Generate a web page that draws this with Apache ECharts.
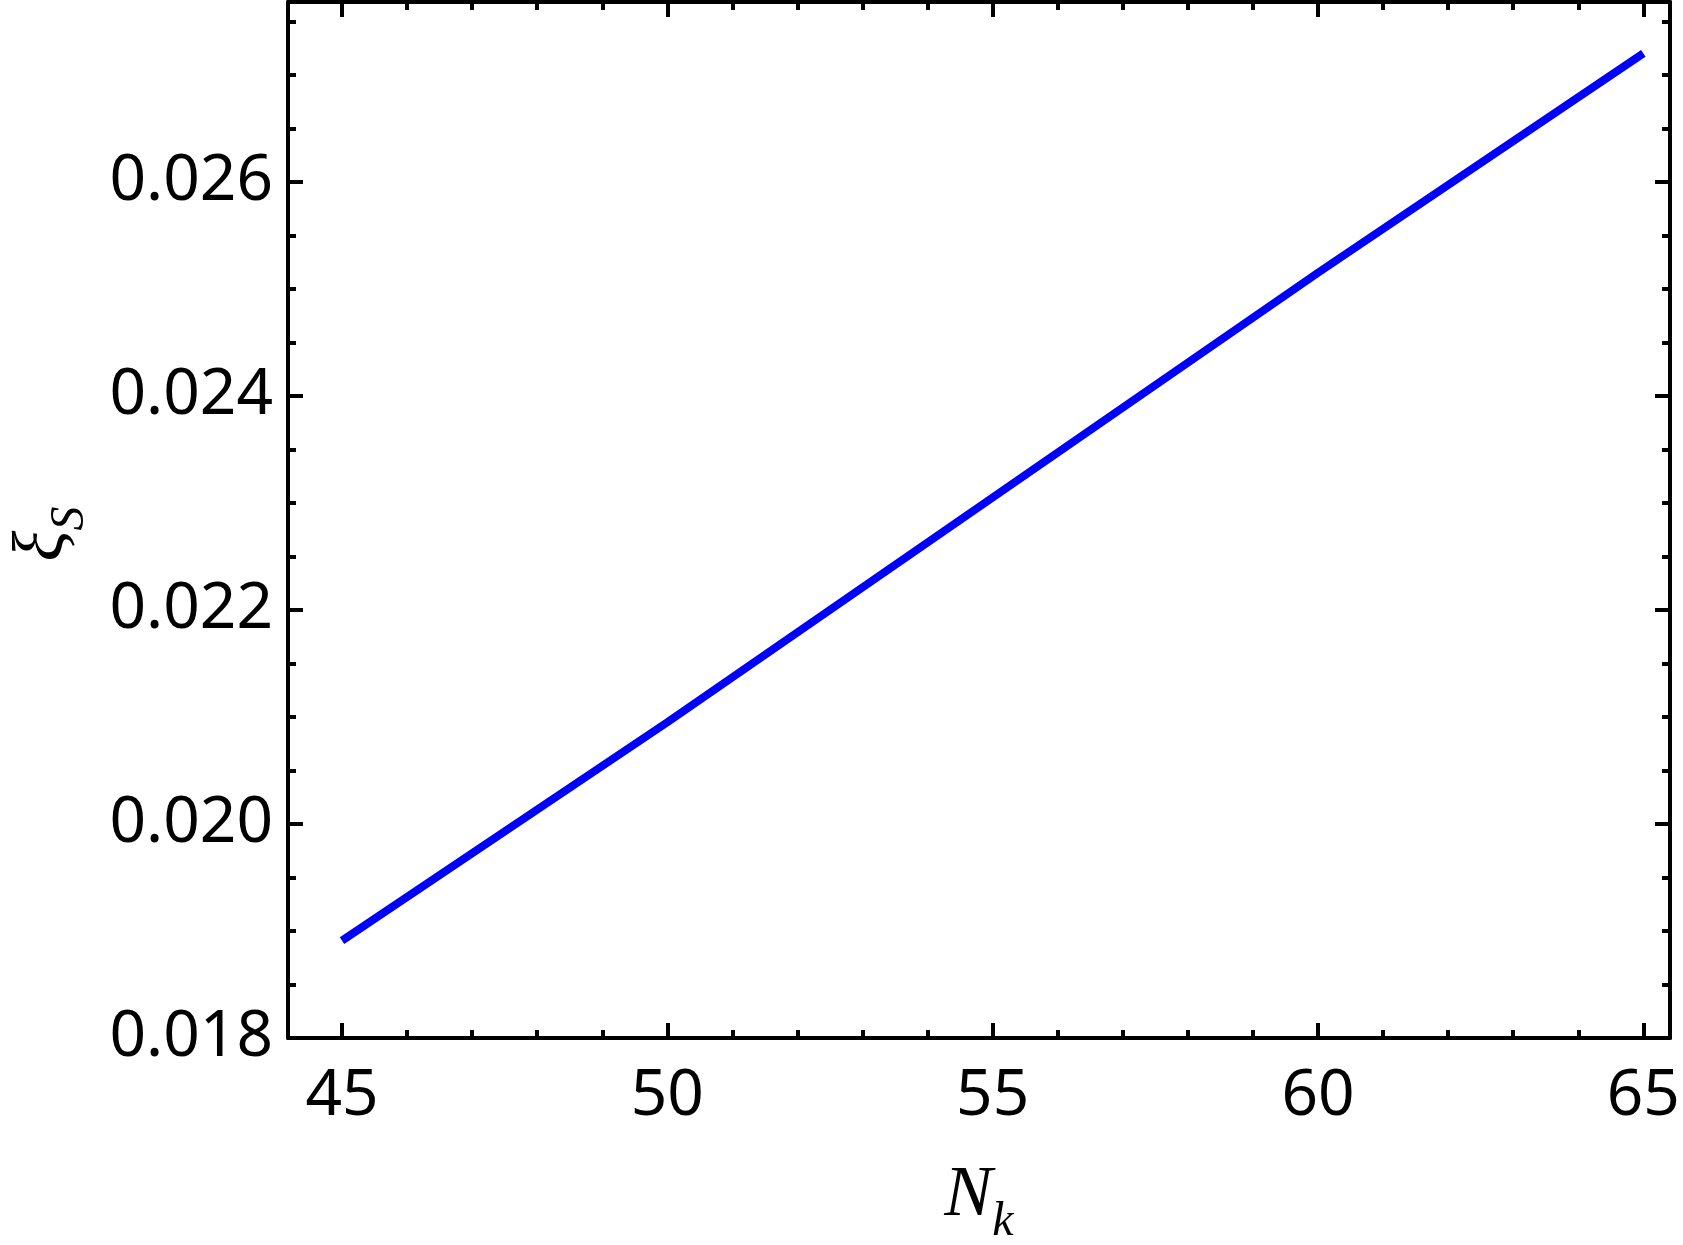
<!DOCTYPE html>
<html>
<head>
<meta charset="utf-8">
<script src="https://cdn.jsdelivr.net/npm/echarts@6/dist/echarts.min.js"></script>
<style>html,body{margin:0;padding:0;background:#fff}#chart{width:1683px;height:1245px}</style>
</head>
<body>
<div id="chart"></div>
<script>
// Data
const nk = [45, 50, 55, 60, 65];
const xiS = [0.01891, 0.02095, 0.02305, 0.02515, 0.0272];

// Ticks
const xMajor = [45, 50, 55, 60, 65];
const xMinor = [46, 47, 48, 49, 51, 52, 53, 54, 56, 57, 58, 59, 61, 62, 63, 64];
const yMajor = [0.018, 0.020, 0.022, 0.024, 0.026];
const yMinor = [0.0185, 0.019, 0.0195, 0.0205, 0.021, 0.0215, 0.0225, 0.023, 0.0235, 0.0245, 0.025, 0.0255, 0.0265, 0.027, 0.0275];

const X_MIN = 44.17, X_MAX = 65.41;
const Y_MIN = 0.018, Y_MAX = 0.02768;

const labelFont = {color: '#000', fontFamily: 'Noto Sans', fontSize: 64};
const lineW = 4;

function xAx(pos, ticks, len, showLine, showLabel) {
  return {
    type: 'value', position: pos, min: X_MIN, max: X_MAX,
    axisLine: {show: showLine, onZero: false, lineStyle: {color: '#000', width: lineW}},
    axisTick: {show: true, inside: true, length: len, customValues: ticks, lineStyle: {color: '#000', width: lineW}},
    axisLabel: showLabel ? Object.assign({show: true, customValues: ticks, margin: 27, formatter: v => String(v)}, labelFont) : {show: false},
    splitLine: {show: false},
    name: showLabel ? '{n|N}{s|k}' : '',
    nameLocation: 'middle', nameGap: 122,
    nameTextStyle: {
      rich: {
        n: {fontFamily: 'Liberation Serif', fontStyle: 'italic', fontSize: 72, color: '#000', verticalAlign: 'bottom', padding: [0, 0, 14, 0]},
        s: {fontFamily: 'Liberation Serif', fontStyle: 'italic', fontSize: 48, color: '#000', verticalAlign: 'bottom'}
      }
    }
  };
}
function yAx(pos, ticks, len, showLine, showLabel) {
  return {
    type: 'value', position: pos, min: Y_MIN, max: Y_MAX,
    axisLine: {show: showLine, onZero: false, lineStyle: {color: '#000', width: lineW}},
    axisTick: {show: true, inside: true, length: len, customValues: ticks, lineStyle: {color: '#000', width: lineW}},
    axisLabel: showLabel ? Object.assign({show: true, customValues: ticks, margin: 15, formatter: v => v.toFixed(3)}, labelFont) : {show: false},
    splitLine: {show: false},
    name: showLabel ? '{n|ξ}{s|S}' : '',
    nameLocation: 'middle', nameGap: 194, nameRotate: 90,
    nameTextStyle: {
      padding: [0, 28, 0, 0],
      rich: {
        n: {fontFamily: 'Liberation Serif', fontStyle: 'italic', fontSize: 72, color: '#000', verticalAlign: 'bottom', padding: [0, 0, 14, 0]},
        s: {fontFamily: 'Liberation Serif', fontStyle: 'italic', fontSize: 48, color: '#000', verticalAlign: 'bottom'}
      }
    }
  };
}

const chart = echarts.init(document.getElementById('chart'), null, {renderer: 'canvas'});
chart.setOption({
  animation: false,
  backgroundColor: '#fff',
  grid: {left: 288, right: 13, top: 2, bottom: 207, containLabel: false, outerBoundsMode: 'none'},
  xAxis: [
    xAx('bottom', xMajor, 15, true, true),
    xAx('bottom', xMinor, 8, false, false),
    xAx('top', xMajor, 15, true, false),
    xAx('top', xMinor, 8, false, false)
  ],
  yAxis: [
    yAx('left', yMajor, 15, true, true),
    yAx('left', yMinor, 8, false, false),
    yAx('right', yMajor, 15, true, false),
    yAx('right', yMinor, 8, false, false)
  ],
  series: [{
    type: 'line',
    xAxisIndex: 0, yAxisIndex: 0,
    showSymbol: false,
    data: nk.map((x, i) => [x, xiS[i]]),
    lineStyle: {color: '#0000ff', width: 8},
    itemStyle: {color: '#0000ff'}
  }]
});
</script>
</body>
</html>
